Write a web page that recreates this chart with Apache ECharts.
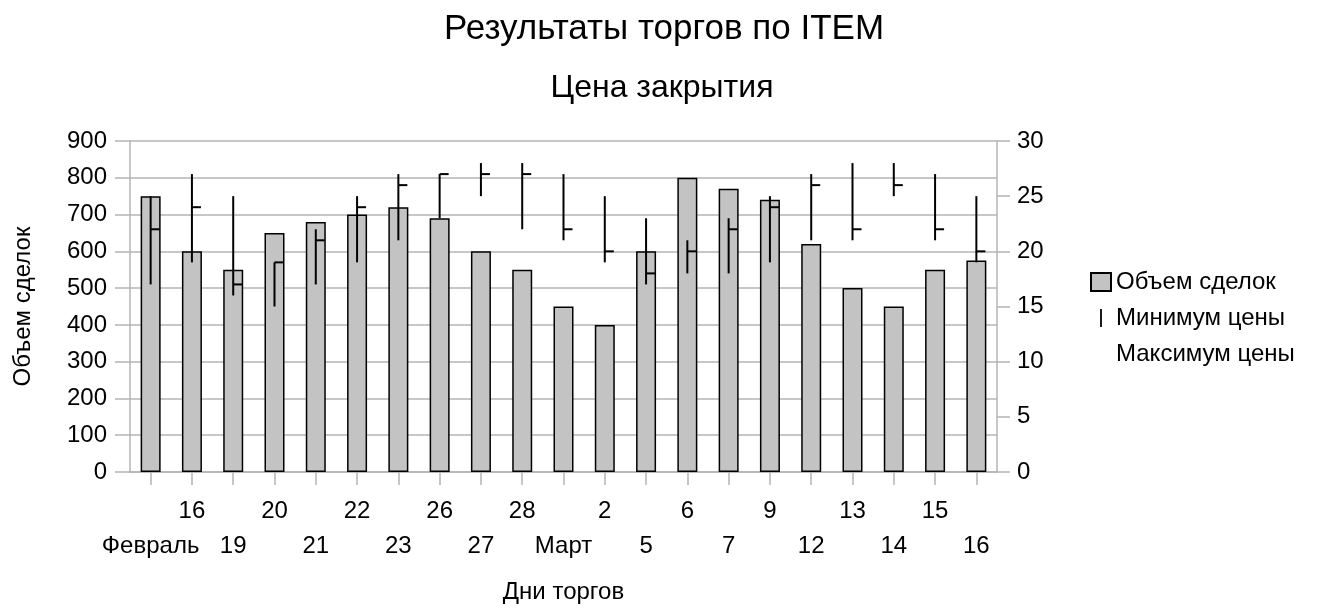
<!DOCTYPE html>
<html>
<head>
<meta charset="utf-8">
<script src="https://cdn.jsdelivr.net/npm/echarts@6/dist/echarts.min.js"></script>
<style>
  html, body { margin: 0; padding: 0; background: #fff; }
  #chart { width: 1317px; height: 609px; }
</style>
</head>
<body>
<div id="chart"></div>
<script>
// ---- Data ----
const dayLabels = ["Февраль","16","19","20","21","22","23","26","27","28","Март","2","5","6","7","9","12","13","14","15","16"];
const volume    = [750,600,550,650,680,700,720,690,600,550,450,400,600,800,770,740,620,500,450,550,575];
const priceLow  = [17,19,16,15,17,19,21,23,25,22,21,19,17,18,18,19,21,21,25,21,19];
const priceHigh = [25,27,25,19,22,25,27,27,28,28,27,25,23,21,23,25,27,28,28,27,25];
const priceClose= [22,24,17,19,21,24,26,27,27,27,22,20,18,20,22,24,26,22,26,22,20];
const volumeTicks = { min: 0, max: 900, interval: 100 };
const priceTicks  = { min: 0, max: 30, interval: 5 };

const FONT = '"Liberation Sans", Arial, sans-serif';
const AXIS_GRAY = '#b4b4b4';

const rangeData = dayLabels.map((_, i) => [i, priceLow[i], priceHigh[i], priceClose[i]]);

const chart = echarts.init(document.getElementById('chart'), null, { renderer: 'canvas' });

const option = {
  animation: false,
  backgroundColor: '#ffffff',
  textStyle: { fontFamily: FONT, color: '#000' },
  graphic: [
    { type: 'text', x: 664, y: 29, style: { text: 'Результаты торгов по ITEM', font: '35px ' + FONT, fill: '#000', textAlign: 'center', textVerticalAlign: 'middle' } },
    { type: 'text', x: 662, y: 88, style: { text: 'Цена закрытия', font: '32px ' + FONT, fill: '#000', textAlign: 'center', textVerticalAlign: 'middle' } }
  ],
  legend: {
    orient: 'vertical',
    left: 1085,
    top: 265,
    itemWidth: 20,
    itemHeight: 18,
    itemGap: 12,
    selectedMode: false,
    textStyle: { fontSize: 24, fontFamily: FONT, color: '#000' },
    data: [
      { name: 'Объем сделок', icon: 'rect' },
      { name: 'Минимум цены', icon: 'path://M0,0 L1,0 L1,10 L0,10 Z' },
      { name: 'Максимум цены', icon: 'none' }
    ]
  },
  grid: { left: 130, right: 320, top: 141, bottom: 134, containLabel: false },
  xAxis: {
    type: 'category',
    data: dayLabels,
    name: 'Дни торгов',
    nameLocation: 'middle',
    nameGap: 108,
    nameTextStyle: { fontSize: 24, fontFamily: FONT, color: '#000' },
    axisLine: { show: true, lineStyle: { color: AXIS_GRAY, width: 1.5 } },
    axisTick: { show: true, alignWithLabel: true, interval: 0, length: 13, lineStyle: { color: AXIS_GRAY, width: 1.5 } },
    axisLabel: {
      interval: 0,
      margin: 22,
      fontSize: 24,
      fontFamily: FONT,
      color: '#000',
      lineHeight: 35,
      formatter: function (val, idx) { return idx % 2 === 1 ? val + '\n ' : ' \n' + val; }
    },
    splitLine: { show: false }
  },
  yAxis: [
    {
      type: 'value',
      min: volumeTicks.min, max: volumeTicks.max, interval: volumeTicks.interval,
      name: 'Объем сделок',
      nameLocation: 'middle',
      nameGap: 95,
      nameRotate: 90,
      nameTextStyle: { fontSize: 24, fontFamily: FONT, color: '#000' },
      axisLine: { show: true, lineStyle: { color: AXIS_GRAY, width: 1.5 } },
      axisTick: { show: true, length: 15, lineStyle: { color: AXIS_GRAY, width: 1.5 } },
      axisLabel: { margin: 23, fontSize: 24, fontFamily: FONT, color: '#000' },
      splitLine: { show: true, lineStyle: { color: AXIS_GRAY, width: 1.5 } }
    },
    {
      type: 'value',
      position: 'right',
      min: priceTicks.min, max: priceTicks.max, interval: priceTicks.interval,
      axisLine: { show: true, lineStyle: { color: AXIS_GRAY, width: 1.5 } },
      axisTick: { show: true, length: 13, lineStyle: { color: AXIS_GRAY, width: 1.5 } },
      axisLabel: { margin: 20, fontSize: 24, fontFamily: FONT, color: '#000' },
      splitLine: { show: false }
    }
  ],
  series: [
    {
      name: 'Объем сделок',
      type: 'bar',
      yAxisIndex: 0,
      data: volume,
      barWidth: 20,
      itemStyle: { color: '#c3c3c3', borderColor: '#000', borderWidth: 1.5 },
      z: 2
    },
    {
      name: 'Минимум цены',
      type: 'custom',
      yAxisIndex: 1,
      data: rangeData,
      encode: { x: 0, y: [1, 2] },
      itemStyle: { color: '#000' },
      z: 5,
      renderItem: function (params, api) {
        const lo = api.coord([api.value(0), api.value(1)]);
        const hi = api.coord([api.value(0), api.value(2)]);
        return {
          type: 'line',
          shape: { x1: lo[0], y1: lo[1], x2: hi[0], y2: hi[1] },
          style: { stroke: '#000', lineWidth: 2 }
        };
      }
    },
    {
      name: 'Максимум цены',
      type: 'custom',
      yAxisIndex: 1,
      data: rangeData,
      encode: { x: 0, y: [3] },
      itemStyle: { color: '#000' },
      z: 5,
      renderItem: function (params, api) {
        const c = api.coord([api.value(0), api.value(3)]);
        return {
          type: 'line',
          shape: { x1: c[0], y1: c[1], x2: c[0] + 9, y2: c[1] },
          style: { stroke: '#000', lineWidth: 2 }
        };
      }
    }
  ]
};

chart.setOption(option);
</script>
</body>
</html>
